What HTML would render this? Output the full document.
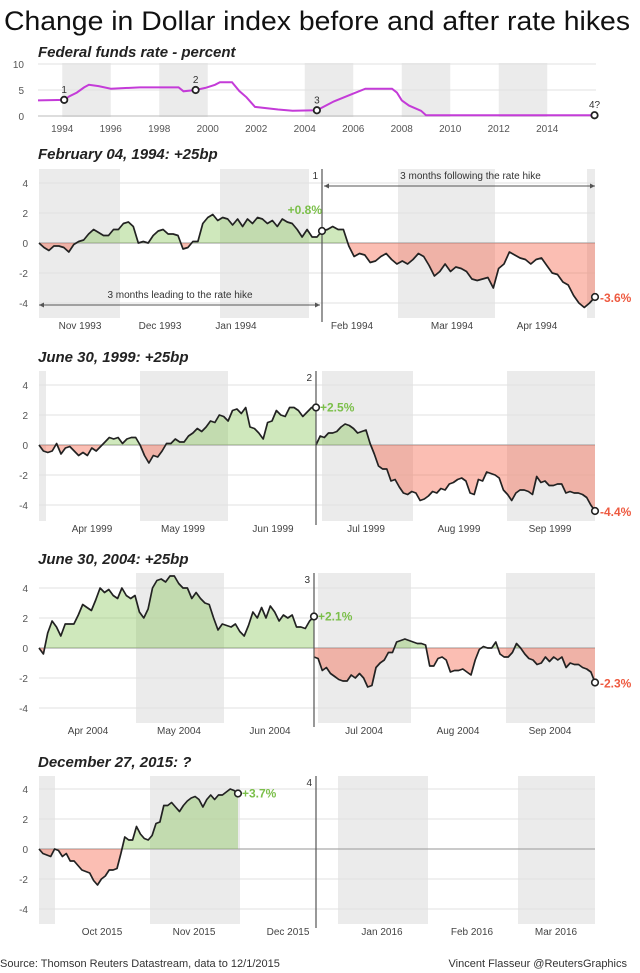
<!DOCTYPE html>
<html><head><meta charset="utf-8">
<style>
html,body{margin:0;padding:0;background:#fff;}
svg{display:block;font-family:"Liberation Sans",Arial,sans-serif;}
</style></head>
<body>
<svg id="c" width="640" height="973" viewBox="0 0 640 973" xmlns="http://www.w3.org/2000/svg">
<text x="4" y="30" font-size="27" fill="#111" textLength="626" lengthAdjust="spacingAndGlyphs">Change in Dollar index before and after rate hikes</text>
<text x="38" y="57" font-size="15" font-style="italic" font-weight="bold" fill="#222">Federal funds rate - percent</text>
<g id="fed"></g>
<g id="panels"></g>
<text x="0" y="967" font-size="11" fill="#333">Source: Thomson Reuters Datastream, data to 12/1/2015</text>
<text x="627" y="967" font-size="11" fill="#333" text-anchor="end">Vincent Flasseur @ReutersGraphics</text>
</svg>
<script>
// ---- Fed funds data ----
const fedYears = [1993,1994.08,1994.3,1994.6,1994.9,1995.1,1995.5,1996.0,1997.2,1998.8,1999.0,1999.5,1999.9,2000.3,2000.5,2001.0,2001.3,2001.6,2001.95,2002.9,2003.5,2004.5,2005.2,2006.0,2006.5,2007.6,2007.8,2008.0,2008.3,2008.8,2009.0,2015.95];
const fedRates = [3,3.1,3.8,4.5,5.5,6,5.75,5.25,5.5,5.5,4.75,5,5.4,6,6.5,6.5,4.8,3.6,1.75,1.25,1,1.1,2.8,4.3,5.25,5.25,4.5,3,2,1,0.15,0.15];
const fedMarkYears = [1994.08,1999.5,2004.5,2015.95];
const fedMarkRates = [3.1,5,1.1,0.15];
const fedMarkLabels = ["1","2","3","4?"];
const fedTickYears = [1994,1996,1998,2000,2002,2004,2006,2008,2010,2012,2014];
const fedYTicks = [0,5,10];

// ---- Panel 1: Feb 04, 1994 ----
const p1Before = [0,-0.3,-0.5,-0.2,-0.2,-0.3,-0.6,-0.1,0.1,0.2,0.6,0.9,0.7,0.5,0.5,0.9,0.9,1.3,1.4,1.1,0,0.1,0,0.5,0.8,0.9,0.6,0.6,0.5,-0.4,-0.3,0.1,0.1,1.3,1.7,1.9,1.5,1.7,1.6,1.2,1.6,1.1,1.6,1.3,1.7,1.6,1.3,1.5,1.1,1.6,1.4,1.3,0.9,0.4,0.9,0.4,0.4,0.8];
const p1After = [0.8,0.9,1.1,0.9,0.9,-0.2,-0.9,-0.7,-0.8,-1.3,-1.2,-0.9,-0.7,-1.1,-1.4,-1.2,-1.4,-1.1,-0.7,-0.9,-1.5,-2.2,-1.9,-1.4,-1.9,-1.6,-1.7,-1.9,-2.4,-2.5,-2.4,-2.3,-3.0,-1.7,-1.4,-0.6,-0.8,-1.0,-1.1,-1.4,-1.1,-1.0,-1.5,-2.0,-2.1,-2.6,-2.8,-3.5,-4.0,-4.3,-4.0,-3.6];
const p1Months = ["Nov 1993","Dec 1993","Jan 1994","Feb 1994","Mar 1994","Apr 1994"];
// ---- Panel 2: June 30, 1999 ----
const p2Before = [0,-0.4,-0.5,-0.4,0.1,-0.6,-0.2,-0.1,-0.4,-0.7,-0.5,-0.7,-0.2,-0.4,-0.1,0.2,0.5,0.4,0.5,0.1,0.4,0.5,0.5,0,-0.7,-1.2,-0.7,-0.8,-0.4,0.1,0.1,0.4,0.2,0.2,0.6,0.8,1.1,0.9,1.2,1.6,1.5,2.0,1.9,1.6,2.3,2.4,2.1,2.5,1.2,1.1,0.8,0.4,1.5,1.6,2.3,2.0,1.9,2.5,2.5,2.3,1.9,2.2,2.5,2.5];
const p2After = [0,0.6,0.5,0.8,0.8,0.9,1.2,1.4,1.3,1.1,0.8,0.9,1.0,0.1,-0.6,-1.4,-1.6,-1.6,-2.4,-2.3,-2.8,-3.2,-3.3,-3.1,-3.2,-3.7,-3.6,-3.4,-3.1,-3.2,-2.9,-3.0,-2.6,-2.5,-2.3,-2.2,-2.4,-3.2,-3.3,-2.3,-2.4,-1.8,-1.9,-2.0,-2.2,-3.0,-3.3,-3.7,-3.2,-3.0,-3.0,-3.1,-3.3,-2.1,-2.5,-2.4,-2.7,-2.7,-2.6,-2.6,-3.2,-3.1,-3.2,-3.2,-3.3,-3.5,-4.0,-4.4];
const p2Months = ["Apr 1999","May 1999","Jun 1999","Jul 1999","Aug 1999","Sep 1999"];
// ---- Panel 3: June 30, 2004 ----
const p3Before = [0,-0.4,1.0,1.8,1.4,0.8,1.6,1.6,1.6,2.2,2.9,2.7,2.5,3.2,4.0,3.7,3.9,3.5,3.3,4.0,3.5,3.3,3.5,2.4,2.0,2.6,4.0,4.5,4.6,4.4,4.8,4.8,4.3,4.0,4.0,3.3,3.7,3.3,3.0,2.9,2.0,1.2,1.6,1.5,1.4,1.6,1.1,0.8,1.5,2.4,2.0,2.7,2.0,2.8,2.4,1.8,2.2,2.0,2.2,1.4,1.4,1.3,1.8,2.1];
const p3After = [-0.6,-0.7,-1.5,-1.3,-1.7,-1.9,-2.1,-2.2,-2.2,-1.8,-2.0,-1.7,-2.0,-2.6,-2.5,-1.3,-1.0,-0.8,-0.3,-0.3,0.4,0.5,0.6,0.5,0.4,0.3,0.3,0.2,-1.2,-1.2,-0.7,-0.6,-0.8,-1.6,-1.5,-1.5,-1.4,-1.6,-1.8,-0.8,-0.1,0.1,0.0,0.0,0.4,-0.4,-0.6,-0.6,-0.3,0.3,0.0,-0.4,-0.7,-0.8,-1.1,-1.0,-0.6,-0.9,-0.6,-0.8,-0.6,-1.3,-1.0,-1.1,-1.1,-1.3,-1.4,-1.6,-2.3];
const p3Months = ["Apr 2004","May 2004","Jun 2004","Jul 2004","Aug 2004","Sep 2004"];
// ---- Panel 4: December 27, 2015 ----
const p4Before = [0,-0.3,-0.4,-0.5,0.0,-0.1,-0.5,-0.3,-0.8,-0.8,-1.1,-1.4,-1.5,-1.6,-2.1,-2.4,-2.0,-1.8,-1.4,-1.4,-1.3,-0.3,0.8,0.6,0.6,1.5,1.0,0.7,0.6,0.9,1.7,1.8,2.9,2.9,3.1,2.8,2.5,2.9,3.2,3.4,3.5,3.3,2.8,3.3,3.6,3.3,3.6,3.6,3.8,4.0,3.9,3.7];
const p4After = [];
const p4Months = ["Oct 2015","Nov 2015","Dec 2015","Jan 2016","Feb 2016","Mar 2016"];
const yTicks = [4,2,0,-2,-4];

const NS = "http://www.w3.org/2000/svg";
function mk(tag, attrs, parent, txt){
  const e = document.createElementNS(NS, tag);
  for (const k in attrs) e.setAttribute(k, attrs[k]);
  if (txt !== undefined) e.textContent = txt;
  parent.appendChild(e);
  return e;
}

// ---- Fed panel ----
(function(){
  const g = document.getElementById('fed');
  const xF = y => 38 + (y - 1993) * 24.25;
  const yF = r => 116 - r * 5.2;
  [[1994,1996],[1998,2000],[2004,2006],[2008,2010],[2012,2014]].forEach(b=>{
    const r = mk('rect',{x:xF(b[0]),y:63,width:xF(b[1])-xF(b[0]),height:54,fill:'#ebebeb'},g);
    
    
  });
  fedYTicks.forEach(t=>{
    const l = mk('line',{x1:38,x2:596,y1:yF(t),y2:yF(t),stroke:t===0?'#bbb':'#e0e0e0','stroke-width':1},g);
    
    
    const tx = mk('text',{x:24,y:yF(t)+4,'font-size':10,fill:'#555','text-anchor':'end'},g,String(t));
    
    
  });
  fedTickYears.forEach(y=>{
    const tx = mk('text',{x:xF(y),y:132,'font-size':10,fill:'#555','text-anchor':'middle'},g,String(y));
    
    
  });
  let d = '';
  fedYears.forEach((y,i)=>{ d += (i?'L':'M') + xF(y).toFixed(1) + ',' + yF(fedRates[i]).toFixed(1); });
  const p = mk('path',{d:d,fill:'none',stroke:'#c43bd8','stroke-width':2},g);
  
  
  fedMarkYears.forEach((y,i)=>{
    const c = mk('circle',{cx:xF(y),cy:yF(fedMarkRates[i]),r:3.2,fill:'#fff',stroke:'#222','stroke-width':1.8},g);
    
    
    const t = mk('text',{x:xF(y),y:yF(fedMarkRates[i])-7,'font-size':10,fill:'#333','text-anchor':'middle'},g,fedMarkLabels[i]);
    
    
  });
})();

// ---- Hike panels ----
const panelCfg = [
  {title:'February 04, 1994: +25bp', titleY:159, top:169, bottom:318, zero:243, hike:322, num:'1', before:p1Before, after:p1After, months:p1Months,
   monthX:[80,160,236,352,452,537], bands:[[39,120],[220,309],[398,495],[587,595]], beforeSlots:p1Before.length, afterSlots:p1After.length,
   beforeLabel:'+0.8%', afterLabel:'-3.6%', arrows:true},
  {title:'June 30, 1999: +25bp', titleY:362, top:371, bottom:521, zero:445, hike:316, num:'2', before:p2Before, after:p2After, months:p2Months,
   monthX:[92,183,273,366,459,550], bands:[[39,46],[140,228],[322,413],[507,595]], beforeSlots:p2Before.length, afterSlots:p2After.length,
   beforeLabel:'+2.5%', afterLabel:'-4.4%'},
  {title:'June 30, 2004: +25bp', titleY:564, top:573, bottom:723, zero:648, hike:314, num:'3', before:p3Before, after:p3After, months:p3Months,
   monthX:[88,179,270,364,458,550], bands:[[136,224],[318,411],[506,595]], beforeSlots:p3Before.length, afterSlots:p3After.length,
   beforeLabel:'+2.1%', afterLabel:'-2.3%'},
  {title:'December 27, 2015: ?', titleY:767, top:776, bottom:924, zero:849, hike:316, num:'4', before:p4Before, after:p4After, months:p4Months,
   monthX:[102,194,288,382,472,556], bands:[[39,55],[150,240],[338,428],[518,595]], beforeSlots:72, afterSlots:60,
   beforeLabel:'+3.7%', afterLabel:null}
];

const root = document.getElementById('panels');
panelCfg.forEach((c,pi)=>{
  const g = mk('g',{},root);
  
  
  const L = 39, R = 595;
  const yS = v => c.zero - v * 15;
  const xB = i => L + i * (c.hike - L) / (c.beforeSlots - 1);
  const xA = i => c.hike + i * (R - c.hike) / (c.afterSlots - 1);

  const tt = mk('text',{x:38,y:c.titleY,'font-size':15,'font-style':'italic','font-weight':'bold',fill:'#222'},g,c.title);
  
  

  c.bands.forEach(b=>{
    const r = mk('rect',{x:b[0],y:c.top,width:b[1]-b[0],height:c.bottom-c.top,fill:'#ebebeb'},g);
    
    
  });
  yTicks.forEach(t=>{
    const l = mk('line',{x1:L,x2:R,y1:yS(t),y2:yS(t),stroke:t===0?'#aaa':'#e2e2e2','stroke-width':t===0?1.3:1},g);
    
    
    const tx = mk('text',{x:28,y:yS(t)+4,'font-size':10,fill:'#555','text-anchor':'end'},g,String(t));
    
    
  });
  c.months.forEach((m,i)=>{
    const tx = mk('text',{x:c.monthX[i],y:c.bottom+11,'font-size':10,fill:'#444','text-anchor':'middle'},g,m);
    
    
  });

  const clipUp = 'cu'+pi, clipDn = 'cd'+pi;
  const defs = mk('defs',{},g);
  const cu = mk('clipPath',{id:clipUp},defs); mk('rect',{x:0,y:0,width:640,height:c.zero},cu);
  const cd = mk('clipPath',{id:clipDn},defs); mk('rect',{x:0,y:c.zero,width:640,height:400},cd);

  function series(vals, xf, name){
    if (!vals.length) return null;
    let line = '';
    vals.forEach((v,i)=>{ line += (i?'L':'M') + xf(i).toFixed(1) + ',' + yS(v).toFixed(1); });
    const area = line + 'L' + xf(vals.length-1).toFixed(1) + ',' + c.zero + 'L' + xf(0).toFixed(1) + ',' + c.zero + 'Z';
    const a1 = mk('path',{d:area,fill:'rgba(130,195,80,0.38)','clip-path':'url(#'+clipUp+')'},g);
    
    
    const a2 = mk('path',{d:area,fill:'rgba(245,100,75,0.42)','clip-path':'url(#'+clipDn+')'},g);
    
    
    const ln = mk('path',{d:line,fill:'none',stroke:'#222','stroke-width':1.7,'stroke-linejoin':'round'},g);
    
    
    return [xf(vals.length-1), yS(vals[vals.length-1]), vals[vals.length-1]];
  }
  const eb = series(c.before, xB, 'before-hike');
  const ea = series(c.after, xA, 'after-hike');

  const hl = mk('line',{x1:c.hike,x2:c.hike,y1:c.top,y2:c.bottom+4,stroke:'#555','stroke-width':1.2},g);
  
  
  const hn = mk('text',{x:c.hike-4,y:c.top+10,'font-size':10,fill:'#333','text-anchor':'end'},g,c.num);
  
  

  function endMark(e, label, color, dx, anchor, dy){
    const ci = mk('circle',{cx:e[0],cy:e[1],r:3.3,fill:'#fff',stroke:'#222','stroke-width':1.6},g);
    
    
    if (label){
      const t = mk('text',{x:e[0]+dx,y:e[1]+dy,'font-size':12,'font-weight':'bold',fill:color,'text-anchor':anchor},g,label);
      
      
    }
  }
  if (eb){
    if (pi===0) endMark(eb, c.beforeLabel, '#7bbf4a', 0, 'end', -17);
    else endMark(eb, c.beforeLabel, '#7bbf4a', 4, 'start', 4);
  }
  if (ea) endMark(ea, c.afterLabel, '#ee5a40', 5, 'start', 5);

  if (c.arrows){
    const a1 = mk('line',{x1:c.hike+2,x2:R,y1:186,y2:186,stroke:'#555','stroke-width':1},g);
    
    
    mk('path',{d:`M${c.hike+2},186l5,-2.5v5z M${R},186l-5,-2.5v5z`,fill:'#555'},g);
    const t1 = mk('text',{x:(c.hike+R)/2+12,y:179,'font-size':10,fill:'#333','text-anchor':'middle'},g,'3 months following the rate hike');
    
    
    const a2 = mk('line',{x1:L,x2:c.hike-2,y1:305,y2:305,stroke:'#555','stroke-width':1},g);
    
    
    mk('path',{d:`M${L},305l5,-2.5v5z M${c.hike-2},305l-5,-2.5v5z`,fill:'#555'},g);
    const t2 = mk('text',{x:180,y:298,'font-size':10,fill:'#333','text-anchor':'middle'},g,'3 months leading to the rate hike');
    
    
  }
});
</script>
</body></html>
